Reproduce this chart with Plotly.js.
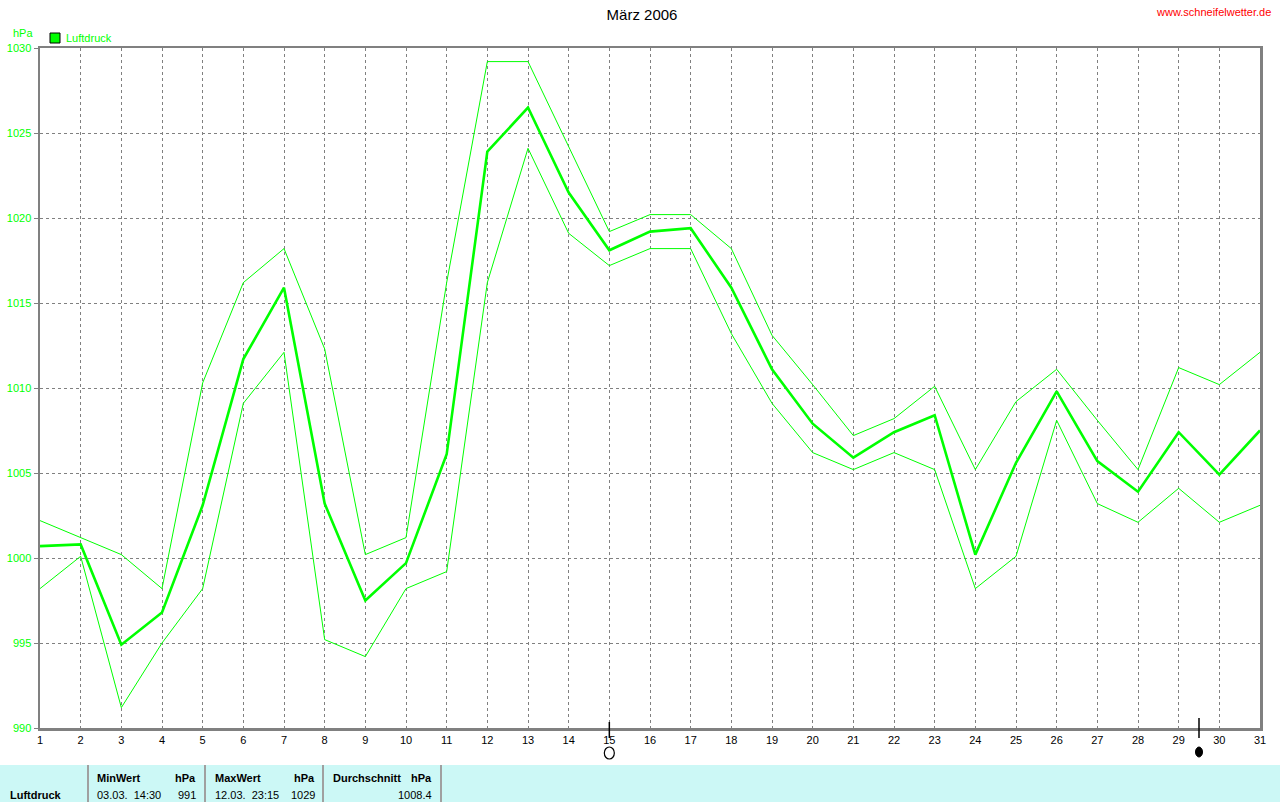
<!DOCTYPE html>
<html>
<head>
<meta charset="utf-8">
<script src="https://cdn.plot.ly/plotly-3.0.1.min.js"></script>
<style>
html,body{margin:0;padding:0;background:#fff;}
#chart{width:1280px;height:802px;}
</style>
</head>
<body>
<div id="chart"></div>
<script>
// ---- data ----
const days = [1,2,3,4,5,6,7,8,9,10,11,12,13,14,15,16,17,18,19,20,21,22,23,24,25,26,27,28,29,30,31];
const pressureMean = [1000.7,1000.8,994.9,996.8,1003.1,1011.7,1015.9,1003.2,997.5,999.7,1006.1,1023.9,1026.5,1021.5,1018.1,1019.2,1019.4,1015.9,1011.1,1007.9,1005.9,1007.4,1008.4,1000.2,1005.6,1009.8,1005.7,1003.9,1007.4,1004.9,1007.5];
const pressureMax = [1002.2,1001.2,1000.2,998.2,1010.3,1016.2,1018.2,1012.3,1000.2,1001.2,1016.2,1029.2,1029.2,1024.2,1019.2,1020.2,1020.2,1018.2,1013.1,1010.2,1007.2,1008.2,1010.1,1005.2,1009.2,1011.1,1008.1,1005.2,1011.2,1010.2,1012.1];
const pressureMin = [998.2,1000.1,991.2,995.0,998.2,1009.1,1012.1,995.2,994.2,998.2,999.2,1016.2,1024.1,1019.1,1017.2,1018.2,1018.2,1013.2,1009.1,1006.2,1005.2,1006.2,1005.2,998.2,1000.1,1008.1,1003.2,1002.1,1004.1,1002.1,1003.1];
const yTicks = [990,995,1000,1005,1010,1015,1020,1025,1030];
const fullMoonDays = [15];
const newMoonDays = [29.5];
const seriesName = 'Luftdruck';
const tableHeaders = ['MinWert','hPa','MaxWert','hPa','Durchschnitt','hPa'];
const tableValues = ['03.03.  14:30','991','12.03.  23:15','1029','','1008.4'];

// ---- geometry helpers (pixel -> paper) ----
const W = 1280, H = 802;
const M = {l:40, r:20, t:48, b:74};
const PW = W - M.l - M.r, PH = H - M.t - M.b;
const px = v => (v - M.l) / PW;
const py = v => (H - M.b - v) / PH;

const GREEN = '#00ff00';
const FONT = 'Liberation Sans, Arial, sans-serif';

const traces = [
  {x: days, y: pressureMax, type:'scatter', mode:'lines', line:{color:GREEN, width:1}, hoverinfo:'skip'},
  {x: days, y: pressureMin, type:'scatter', mode:'lines', line:{color:GREEN, width:1}, hoverinfo:'skip'},
  {x: days, y: pressureMean, type:'scatter', mode:'lines', line:{color:GREEN, width:2.6}, hoverinfo:'skip', name: seriesName}
];

const shapes = [];
const annotations = [];

// moon phase ticks and symbols
fullMoonDays.forEach(d => {
  shapes.push({type:'line', xref:'x', yref:'paper', x0:d, x1:d, y0:py(722), y1:py(738), line:{color:'#000', width:1.5}});
  shapes.push({type:'circle', xref:'x', yref:'paper', xsizemode:'pixel', ysizemode:'pixel', xanchor:d, yanchor:py(753), x0:-5, x1:5, y0:-6, y1:6, line:{color:'#000', width:1.2}, fillcolor:'rgba(0,0,0,0)'});
});
newMoonDays.forEach(d => {
  shapes.push({type:'line', xref:'x', yref:'paper', x0:d, x1:d, y0:py(718), y1:py(738), line:{color:'#000', width:1.5}});
  shapes.push({type:'circle', xref:'x', yref:'paper', xsizemode:'pixel', ysizemode:'pixel', xanchor:d, yanchor:py(752), x0:-3.5, x1:3.5, y0:-5, y1:5, line:{color:'#000', width:1}, fillcolor:'#000'});
});

// legend box
shapes.push({type:'rect', xref:'paper', yref:'paper', x0:px(50), x1:px(60), y0:py(43), y1:py(33), line:{color:'#000', width:1}, fillcolor:GREEN});
annotations.push({xref:'paper', yref:'paper', x:px(64), y:py(38), text:seriesName, showarrow:false, xanchor:'left', yanchor:'middle', font:{family:FONT, size:11, color:GREEN}});
// unit label
annotations.push({xref:'paper', yref:'paper', x:px(11), y:py(33), text:'hPa', showarrow:false, xanchor:'left', yanchor:'middle', font:{family:FONT, size:11, color:GREEN}});
// website
annotations.push({xref:'paper', yref:'paper', x:px(1273), y:py(12), text:'www.schneifelwetter.de', showarrow:false, xanchor:'right', yanchor:'middle', font:{family:FONT, size:11, color:'#ff0000'}});

// bottom table
shapes.push({type:'rect', xref:'paper', yref:'paper', x0:px(0), x1:px(1280), y0:py(802), y1:py(765), line:{width:0}, fillcolor:'#ccf8f6', layer:'below'});
[88, 205, 323, 441].forEach(sx => {
  shapes.push({type:'line', xref:'paper', yref:'paper', x0:px(sx), x1:px(sx), y0:py(765), y1:py(802), line:{color:'#a0a0a0', width:2}});
});
annotations.push({xref:'paper', yref:'paper', x:px(8), y:py(795), text:'<b>'+seriesName+'</b>', showarrow:false, xanchor:'left', yanchor:'middle', font:{family:FONT, size:11, color:'#000'}});
const colL = [95, 213, 331];
const colR = [198, 317, 434];
for (let i = 0; i < 3; i++) {
  annotations.push({xref:'paper', yref:'paper', x:px(colL[i]), y:py(778), text:'<b>'+tableHeaders[2*i]+'</b>', showarrow:false, xanchor:'left', yanchor:'middle', font:{family:FONT, size:11, color:'#000'}});
  annotations.push({xref:'paper', yref:'paper', x:px(colR[i]), y:py(778), text:'<b>'+tableHeaders[2*i+1]+'</b>', showarrow:false, xanchor:'right', yanchor:'middle', font:{family:FONT, size:11, color:'#000'}});
  if (tableValues[2*i]) annotations.push({xref:'paper', yref:'paper', x:px(colL[i]), y:py(795), text:tableValues[2*i], showarrow:false, xanchor:'left', yanchor:'middle', font:{family:FONT, size:11, color:'#000'}});
  annotations.push({xref:'paper', yref:'paper', x:px(colR[i]), y:py(795), text:tableValues[2*i+1], showarrow:false, xanchor:'right', yanchor:'middle', font:{family:FONT, size:11, color:'#000'}});
}

const layout = {
  width: W, height: H,
  margin: M,
  paper_bgcolor:'#fff', plot_bgcolor:'#fff',
  showlegend:false,
  hovermode:false,
  title:{text:'März 2006', x:642/W, xref:'container', xanchor:'center', y:1 - 15/H, yref:'container', yanchor:'middle', font:{family:FONT, size:15, color:'#000'}},
  xaxis:{
    range:[1,31], tickmode:'array', tickvals:days, ticktext:days.map(String),
    showgrid:true, gridcolor:'#808080', gridwidth:1, griddash:'3px,3px',
    showline:true, linecolor:'#808080', linewidth:2.5, mirror:true,
    ticks:'', zeroline:false, fixedrange:true,
    tickfont:{family:FONT, size:11, color:'#000'}
  },
  yaxis:{
    range:[990,1030], tickmode:'array', tickvals:yTicks, ticktext:yTicks.map(String),
    showgrid:true, gridcolor:'#808080', gridwidth:1, griddash:'3px,3px',
    showline:true, linecolor:'#808080', linewidth:2.5, mirror:true,
    ticks:'outside', ticklen:4, tickcolor:'#808080', tickwidth:1,
    zeroline:false, fixedrange:true,
    tickfont:{family:FONT, size:11, color:GREEN}
  },
  shapes: shapes,
  annotations: annotations
};

Plotly.newPlot('chart', traces, layout, {displayModeBar:false, staticPlot:true});
</script>
</body>
</html>
